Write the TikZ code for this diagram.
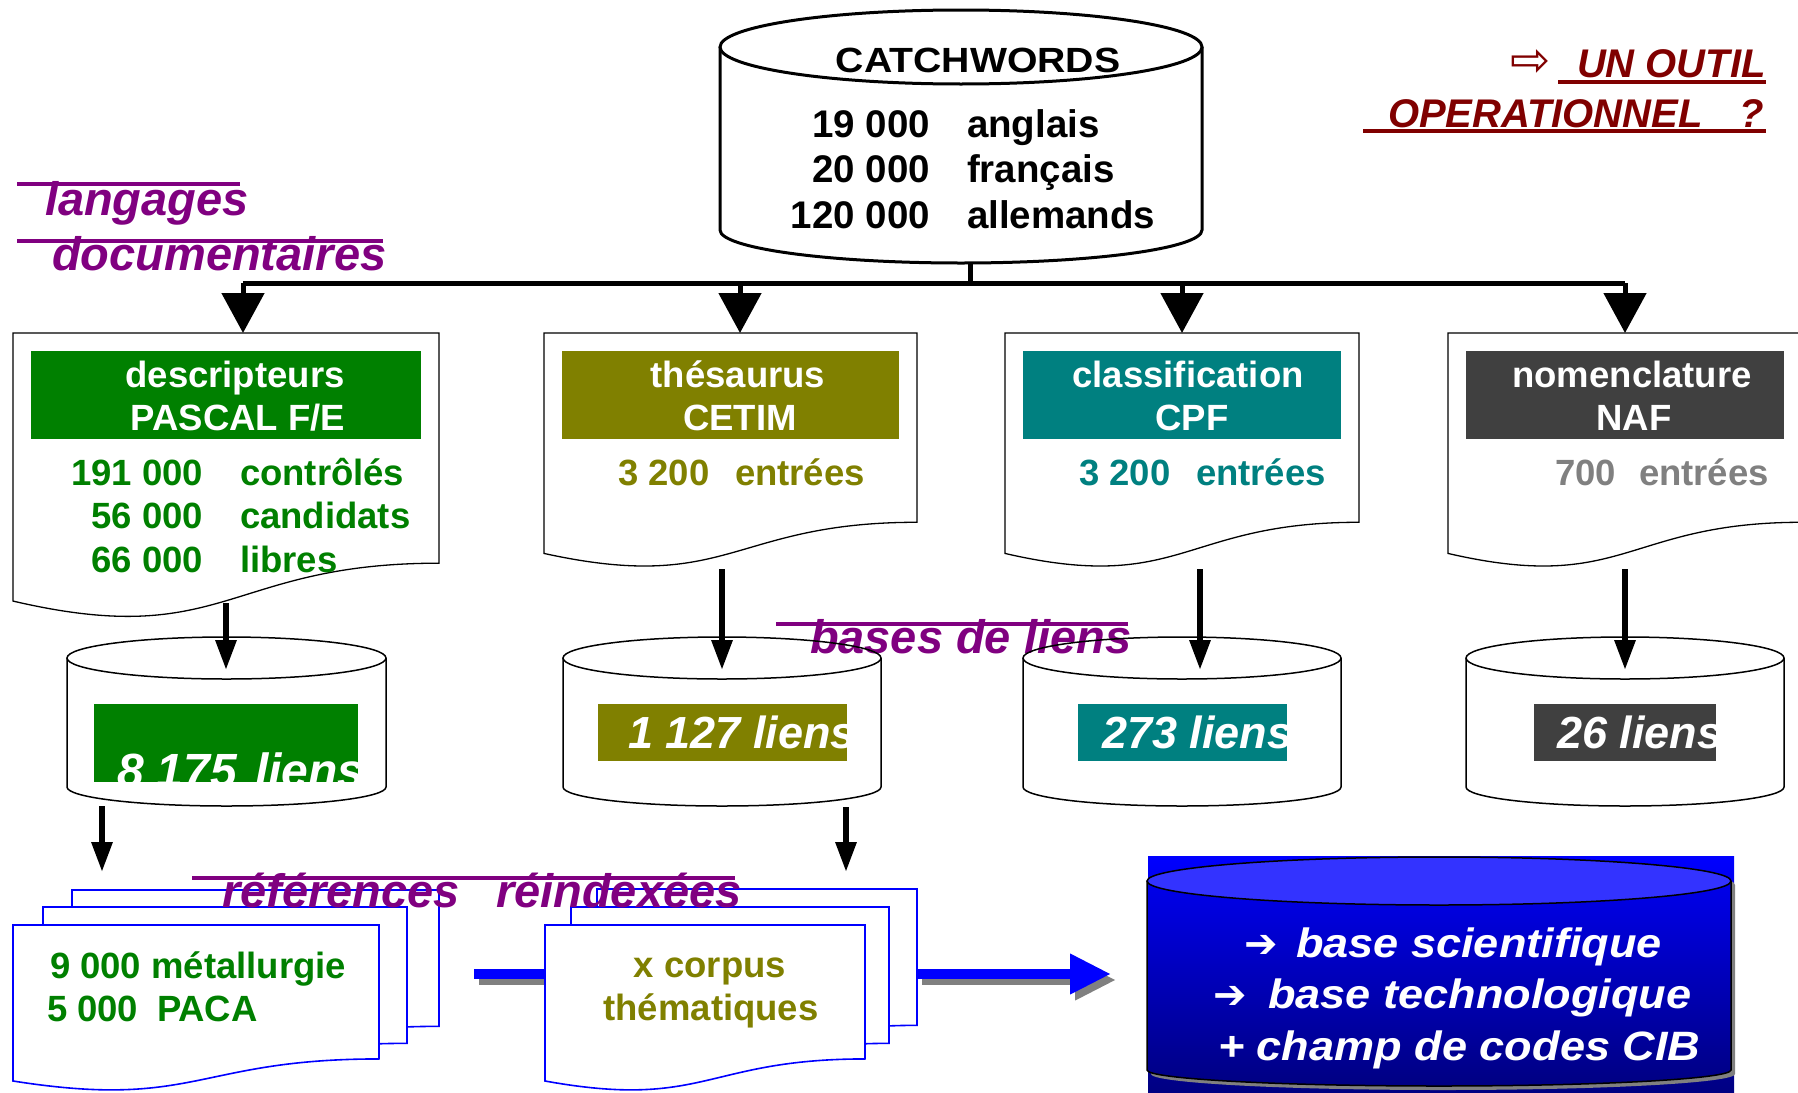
\documentclass[tikz,border=0pt]{standalone}
\usepackage{fontspec}
\usepackage{graphicx}
\setmainfont{Liberation Sans}
\newfontfamily\djv{DejaVu Sans}
\usetikzlibrary{arrows.meta}
\definecolor{cpurple}{RGB}{128,0,128}
\definecolor{cdred}{RGB}{128,0,0}
\definecolor{cgreen}{RGB}{0,128,0}
\definecolor{colive}{RGB}{128,128,0}
\definecolor{cteal}{RGB}{0,128,128}
\definecolor{cdgray}{RGB}{64,64,64}
\definecolor{cgray}{RGB}{128,128,128}
\definecolor{cnavy}{RGB}{0,0,130}
\definecolor{cbody}{RGB}{0,0,235}
\definecolor{clblue}{RGB}{51,51,255}
\newcommand\fsz[1]{\fontsize{#1}{#1}\selectfont}
% document shape: L R T h style
\newcommand\docshape[5]{\draw[#5] (#1,#3) -- (#2,#3) -- (#2,{#3+0.802*#4}) .. controls ({(#1+#2)/2},{#3+0.802*#4}) and ({(#1+#2)/2},{#3+1.1075*#4}) .. (#1,{#3+0.934*#4}) -- cycle;}
% cylinder: cx rx topY ryTop botY ryBot bodystyle topstyle
\newcommand\cylshape[8]{\path[#7] ({#1-#2},#3) -- ({#1-#2},#5) arc[start angle=180,end angle=360,x radius=#2pt,y radius=#6pt] -- ({#1+#2},#3);
  \path[#8] (#1,#3) ellipse [x radius=#2pt, y radius=#4pt];}
\begin{document}
\begin{tikzpicture}[x=1pt,y=-1pt,
  every node/.style={inner sep=0pt,outer sep=0pt},
  docstyle/.style={draw=black,line width=1.3pt,fill=white},
  pagestyle/.style={draw=blue,line width=1.6pt,fill=white},
  cylline/.style={draw=black,line width=1.5pt},
  hbox/.style={anchor=north west,minimum height=88pt},
  hdrtext/.style={text=white,font=\fsz{36.5}\bfseries,anchor=base},
  bodytext/.style={font=\fsz{36.5}\bfseries},
  cwtext/.style={font=\fsz{38.5}\bfseries},
  purpletext/.style={text=cpurple,font=\fsz{47}\bfseries\itshape,anchor=base west},
  purpleline/.style={draw=cpurple,line width=4.5pt},
  distarrow/.style={draw=black,line width=5pt,-{Triangle[length=40pt,width=42pt]}},
  linkarrow/.style={draw=black,line width=6pt,-{Triangle[length=30pt,width=20pt]}},
  lienstext/.style={text=white,font=\fsz{45}\bfseries\itshape,anchor=base west},
  bluearrow/.style={draw=blue,line width=10pt},
  shadowarrow/.style={draw=cgray,line width=10pt},
  bigtext/.style={text=white,font=\fsz{41}\bfseries\itshape,anchor=base west},
  bulletarrow/.style={text=white,font=\djv\bfseries\fsz{40},anchor=base west},
  titletext/.style={text=cdred,font=\fsz{40}\bfseries\itshape,anchor=base west},
  titleline/.style={draw=cdred,line width=4.5pt}]
\useasboundingbox (0,0) rectangle (1798,1092);
\clip (0,0) rectangle (1798,1092);

% ---------- CATCHWORDS cylinder ----------
\cylshape{961}{241}{47}{37}{230}{33}{draw=black,line width=3pt,fill=white}{draw=black,line width=3pt,fill=white}
\node[font=\fsz{35}\bfseries,anchor=base] (cwtitle) at (978,72) {\scalebox{1.12}[1]{CATCHWORDS}};
\node[cwtext,anchor=base east] (cwn1) at (930,137) {19 000};
\node[cwtext,anchor=base west] (cww1) at (967,137) {anglais};
\node[cwtext,anchor=base east] (cwn2) at (930,182) {20 000};
\node[cwtext,anchor=base west] (cww2) at (967,182) {français};
\node[cwtext,anchor=base east] (cwn3) at (930,228) {120 000};
\node[cwtext,anchor=base west] (cww3) at (967,228) {allemands};

% ---------- distribution ----------
\coordinate (cwbot) at (970,263);
\coordinate (hub) at (970,283);
\coordinate (j1) at (243,283);
\coordinate (j2) at (740,283);
\coordinate (j3) at (1182,283);
\coordinate (j4) at (1625,283);
\coordinate (d1in) at (243,333);
\coordinate (d2in) at (740,333);
\coordinate (d3in) at (1182,333);
\coordinate (d4in) at (1625,333);
\draw[line width=5pt] (cwbot) -- (hub);
\draw[line width=5pt] (j1) -- (j4);
\draw[distarrow] (j1) -- (d1in);
\draw[distarrow] (j2) -- (d2in);
\draw[distarrow] (j3) -- (d3in);
\draw[distarrow] (j4) -- (d4in);

% ---------- documents ----------
\docshape{13}{439}{333}{287}{docstyle}
\docshape{544}{917}{333}{236}{docstyle}
\docshape{1005}{1359}{333}{236}{docstyle}
\docshape{1448}{1802}{333}{236}{docstyle}

\node[hbox,fill=cgreen,minimum width=390pt] (h1) at (31,351) {};
\node[hbox,fill=colive,minimum width=337pt] (h2) at (562,351) {};
\node[hbox,fill=cteal,minimum width=318pt] (h3) at (1023,351) {};
\node[hbox,fill=cdgray,minimum width=318pt] (h4) at (1466,351) {};

\node[hdrtext] (h1a) at (235,387) {descripteurs};
\node[hdrtext] (h1b) at (238,430) {PASCAL F/E};
\node[hdrtext] (h2a) at (738,387) {thésaurus};
\node[hdrtext] (h2b) at (740,430) {CETIM};
\node[hdrtext] (h3a) at (1188,387) {classification};
\node[hdrtext] (h3b) at (1192,430) {CPF};
\node[hdrtext] (h4a) at (1632,387) {nomenclature};
\node[hdrtext] (h4b) at (1634,430) {NAF};

\node[bodytext,text=cgreen,anchor=base east] (g1n) at (203,485) {191 000};
\node[bodytext,text=cgreen,anchor=base west] (g1w) at (240,485) {contrôlés};
\node[bodytext,text=cgreen,anchor=base east] (g2n) at (203,528) {56 000};
\node[bodytext,text=cgreen,anchor=base west] (g2w) at (240,528) {candidats};
\node[bodytext,text=cgreen,anchor=base east] (g3n) at (203,572) {66 000};
\node[bodytext,text=cgreen,anchor=base west] (g3w) at (240,572) {libres};

\node[bodytext,text=colive,anchor=base west] (o1n) at (618,485) {3 200};
\node[bodytext,text=colive,anchor=base west] (o1w) at (735,485) {entrées};
\node[bodytext,text=cteal,anchor=base west] (t1n) at (1079,485) {3 200};
\node[bodytext,text=cteal,anchor=base west] (t1w) at (1196,485) {entrées};
\node[bodytext,text=cgray,anchor=base west] (k1n) at (1555,485) {700};
\node[bodytext,text=cgray,anchor=base west] (k1w) at (1639,485) {entrées};

% ---------- langages documentaires ----------
\coordinate (la1) at (17,184); \coordinate (la2) at (240,184);
\coordinate (lb1) at (17,241); \coordinate (lb2) at (383,241);
\draw[purpleline] (la1) -- (la2);
\draw[purpleline] (lb1) -- (lb2);
\node[purpletext] (lang1) at (45,215) {langages};
\node[purpletext] (lang2) at (52,270) {documentaires};

% ---------- bases de liens ----------
\coordinate (bl1) at (776,624); \coordinate (bl2) at (1128,624);
\draw[purpleline] (bl1) -- (bl2);
\node[purpletext] (bases) at (810,653) {bases de liens};

% ---------- small cylinders ----------
\cylshape{226.5}{159.5}{658}{21}{787}{19}{cylline}{cylline}
\cylshape{722}{159}{658}{21}{787}{19}{cylline}{cylline}
\cylshape{1182}{159}{658}{21}{787}{19}{cylline}{cylline}
\cylshape{1625}{159}{658}{21}{787}{19}{cylline}{cylline}

\node[anchor=north west,fill=cgreen,minimum width=264pt,minimum height=78pt] (lb1box) at (94,704) {};
\node[anchor=north west,fill=colive,minimum width=249pt,minimum height=57pt] (lb2box) at (598,704) {};
\node[anchor=north west,fill=cteal,minimum width=209pt,minimum height=57pt] (lb3box) at (1078,704) {};
\node[anchor=north west,fill=cdgray,minimum width=182pt,minimum height=57pt] (lb4box) at (1534,704) {};
\begin{scope}
\clip (94,704) rectangle (358,782);
\node[lienstext,font=\fsz{48}\bfseries\itshape] (l1) at (117,787) {8 175\hspace{18pt}liens};
\end{scope}
\begin{scope}
\clip (598,704) rectangle (847,761);
\node[lienstext] (l2) at (628,748) {1 127 liens};
\end{scope}
\begin{scope}
\clip (1078,704) rectangle (1287,761);
\node[lienstext] (l3) at (1102,748) {273 liens};
\end{scope}
\begin{scope}
\clip (1534,704) rectangle (1716,761);
\node[lienstext] (l4) at (1557,748) {26 liens};
\end{scope}

% doc -> cylinder arrows
\coordinate (d1out) at (226,603); \coordinate (c1in) at (226,670);
\coordinate (d2out) at (722,569); \coordinate (c2in) at (722,670);
\coordinate (d3out) at (1200,569); \coordinate (c3in) at (1200,670);
\coordinate (d4out) at (1625,569); \coordinate (c4in) at (1625,670);
\draw[linkarrow] (d1out) -- (c1in);
\draw[linkarrow] (d2out) -- (c2in);
\draw[linkarrow] (d3out) -- (c3in);
\draw[linkarrow] (d4out) -- (c4in);

% cylinder -> stacks
\coordinate (c1out) at (102,806); \coordinate (s1in) at (102,872);
\coordinate (c2out) at (846,807); \coordinate (s2in) at (846,872);
\draw[linkarrow] (c1out) -- (s1in);
\draw[linkarrow] (c2out) -- (s2in);

% ---------- stacks ----------
\docshape{72}{439}{890}{170}{pagestyle}
\docshape{43}{407}{907}{170}{pagestyle}
\docshape{13}{379}{925}{167}{pagestyle}

\coordinate (ba1) at (474,974); \coordinate (ba2) at (545,974);
\draw[shadowarrow] ([shift={(5,6)}]ba1) -- ([shift={(5,6)}]ba2);
\draw[bluearrow] (ba1) -- (ba2);

\docshape{597}{917}{889}{170}{pagestyle}
\docshape{571}{889}{907}{170}{pagestyle}
\docshape{545}{865}{925}{167}{pagestyle}

\node[bodytext,text=cgreen,anchor=base west] (m1) at (50,978) {9 000 métallurgie};
\node[bodytext,text=cgreen,anchor=base west] (m2) at (47,1021) {5 000};
\node[bodytext,text=cgreen,anchor=base west] (m3) at (157,1021) {PACA};
\node[bodytext,text=colive,anchor=base] (x1) at (710,977) {x corpus};
\node[bodytext,text=colive,anchor=base] (x2) at (711,1020) {thématiques};

\coordinate (bb1) at (917,974); \coordinate (bb2) at (1111,974);
\draw[shadowarrow,-{Triangle[length=41pt,width=38pt]}] ([shift={(5,6)}]bb1) -- ([shift={(5,6)}]bb2);
\draw[bluearrow,-{Triangle[length=41pt,width=38pt]}] (bb1) -- (bb2);

% references reindexees
\coordinate (rf1) at (192,878); \coordinate (rf2) at (735,878);
\draw[purpleline] (rf1) -- (rf2);
\node[purpletext] (ref1) at (222,907) {références};
\node[purpletext] (ref2) at (496,907) {réindexées};

% ---------- big blue cylinder ----------
\shade[top color=blue,bottom color=cnavy] (1148,856) rectangle (1734,1092);
\cylshape{1443}{292}{885}{24}{1074}{16}{fill=cgray}{fill=cgray}
\cylshape{1439}{292}{881}{24}{1070}{16}{draw=black,line width=1.5pt,top color=cbody,bottom color=cnavy}{draw=black,line width=1.5pt,fill=clblue}
\node[bulletarrow] (ar1) at (1244,957) {➔};
\node[bigtext] (bt1) at (1296,957) {\scalebox{1.1}[1]{base scientifique}};
\node[bulletarrow] (ar2) at (1213,1008) {➔};
\node[bigtext] (bt2) at (1268,1008) {\scalebox{1.1}[1]{base technologique}};
\node[bigtext] (bt3) at (1218,1060) {\scalebox{1.1}[1]{+ champ de codes CIB}};

% ---------- title ----------
\node[text=cdred,font=\djv\fsz{48}] (tarrow) at (1531,63) {⇨};
\node[titletext] (t1) at (1577,77) {UN OUTIL};
\node[titletext] (t2) at (1388,127) {OPERATIONNEL};
\node[titletext,anchor=base east] (t3) at (1764,127) {?};
\coordinate (u1a) at (1558,82); \coordinate (u1b) at (1766,82);
\coordinate (u2a) at (1363,131); \coordinate (u2b) at (1766,131);
\draw[titleline] (u1a) -- (u1b);
\draw[titleline] (u2a) -- (u2b);
\end{tikzpicture}
\end{document}
